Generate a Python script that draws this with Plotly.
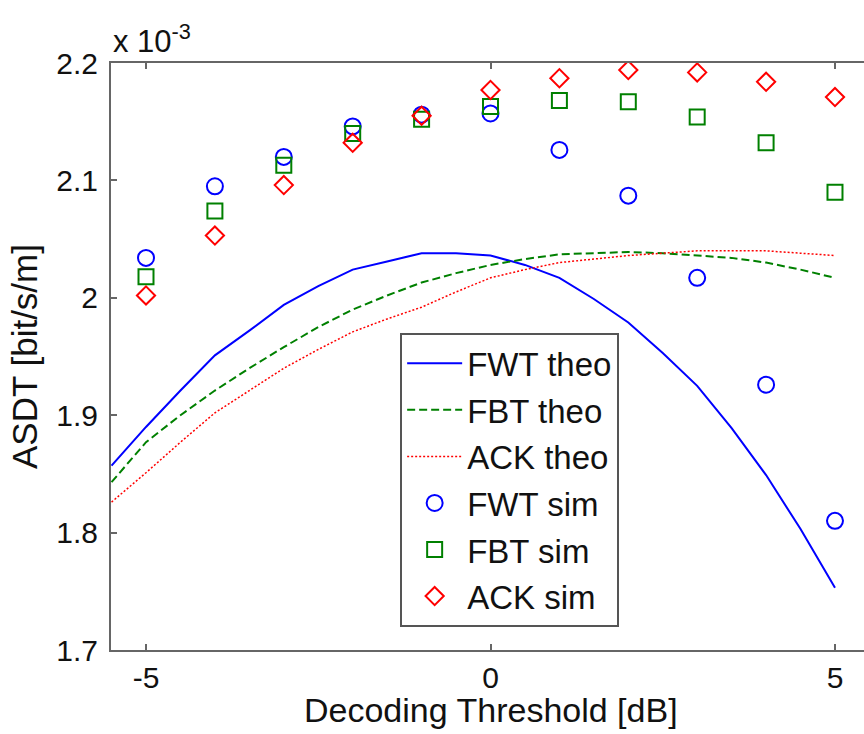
import plotly.graph_objects as go

# Decoding threshold grid (dB)
thr_sim = [-5, -4, -3, -2, -1, 0, 1, 2, 3, 4, 5]
thr_theo = [-5.5, -5.0, -4.5, -4.0, -3.5, -3.0, -2.5, -2.0, -1.5, -1.0, -0.5,
            0.0, 0.5, 1.0, 1.5, 2.0, 2.5, 3.0, 3.5, 4.0, 4.5, 5.0]

# ASDT values in units of 1e-3 bit/s/m
fwt_theo = [1.857, 1.890, 1.921, 1.951, 1.972, 1.994, 2.010, 2.024, 2.031, 2.038, 2.038,
            2.036, 2.028, 2.017, 1.999, 1.979, 1.953, 1.925, 1.889, 1.849, 1.803, 1.753]
fbt_theo = [1.843, 1.877, 1.900, 1.921, 1.940, 1.958, 1.975, 1.990, 2.002, 2.013, 2.021,
            2.028, 2.033, 2.037, 2.038, 2.039, 2.038, 2.036, 2.034, 2.030, 2.024, 2.017]
ack_theo = [1.826, 1.851, 1.877, 1.902, 1.921, 1.940, 1.956, 1.971, 1.982, 1.992, 2.005,
            2.017, 2.024, 2.030, 2.033, 2.036, 2.038, 2.040, 2.040, 2.040, 2.038, 2.036]

fwt_sim = [2.034, 2.095, 2.120, 2.146, 2.156, 2.157, 2.126, 2.087, 2.017, 1.926, 1.810]
fbt_sim = [2.018, 2.074, 2.113, 2.140, 2.152, 2.163, 2.168, 2.167, 2.154, 2.132, 2.090]
ack_sim = [2.002, 2.053, 2.096, 2.132, 2.155, 2.177, 2.187, 2.194, 2.192, 2.184, 2.171]

y_ticks = [1.7, 1.8, 1.9, 2.0, 2.1, 2.2]
y_tick_text = ["1.7", "1.8", "1.9", "2", "2.1", "2.2"]
x_ticks = [-5, 0, 5]
x_tick_text = ["-5", "0", "5"]

BLUE = "#0000FF"
GREEN = "#008000"
RED = "#FF0000"
FONT = "Liberation Sans"
INK = "#111111"


def leg(name):
    # legend rows are spaced by the legend font; the label itself is a bit smaller
    return '<span style="font-size:33px">' + name + "</span>"


fig = go.Figure()
fig.add_trace(go.Scatter(x=thr_theo, y=fwt_theo, mode="lines", name=leg("FWT theo"),
                         line=dict(color=BLUE, width=2)))
fig.add_trace(go.Scatter(x=thr_theo, y=fbt_theo, mode="lines", name=leg("FBT theo"),
                         line=dict(color=GREEN, width=2, dash="8px,4px")))
fig.add_trace(go.Scatter(x=thr_theo, y=ack_theo, mode="lines", name=leg("ACK theo"),
                         line=dict(color=RED, width=1.5, dash="2px,2px")))
fig.add_trace(go.Scatter(x=thr_sim, y=fwt_sim, mode="markers", name=leg("FWT sim"),
                         marker=dict(symbol="circle-open", size=16, color=BLUE,
                                     line=dict(color=BLUE, width=2))))
fig.add_trace(go.Scatter(x=thr_sim, y=fbt_sim, mode="markers", name=leg("FBT sim"),
                         marker=dict(symbol="square-open", size=15, color=GREEN,
                                     line=dict(color=GREEN, width=2))))
fig.add_trace(go.Scatter(x=thr_sim, y=ack_sim, mode="markers", name=leg("ACK sim"),
                         marker=dict(symbol="diamond-open", size=14, color=RED,
                                     line=dict(color=RED, width=2))))

axis_common = dict(
    showgrid=False, zeroline=False, showline=True, linecolor="#666666", linewidth=2,
    ticks="inside", ticklen=6, tickwidth=1.5, tickcolor="#666666",
    tickfont=dict(family=FONT, size=30, color=INK),
)

fig.update_xaxes(
    range=[-5.508, 5.421], tickvals=x_ticks, ticktext=x_tick_text, mirror="ticks",
    **axis_common,
)
fig.update_yaxes(
    range=[1.7, 2.2], tickvals=y_ticks, ticktext=y_tick_text, mirror=False,
    ticklabelstandoff=5,
    title=dict(text="ASDT [bit/s/m]", font=dict(family=FONT, size=35, color=INK),
               standoff=8),
    **axis_common,
)

# x-axis label, centred on the full axes box
fig.add_annotation(
    xref="paper", yref="paper", x=0.5046, y=-0.1022, xanchor="center", yanchor="middle",
    text="Decoding Threshold [dB]", showarrow=False,
    font=dict(family=FONT, size=34, color=INK),
)

# exponent label for the y axis
fig.add_annotation(
    xref="paper", yref="paper", x=0.0, y=1.0, xanchor="left", yanchor="bottom",
    text="x 10<sup>-3</sup>", showarrow=False,
    font=dict(family=FONT, size=31, color=INK), yshift=2,
)

fig.update_layout(
    width=864, height=734,
    margin=dict(l=111, r=0, t=63, b=84),
    paper_bgcolor="white", plot_bgcolor="white",
    font=dict(family=FONT, color=INK),
    legend=dict(
        x=0.384, y=0.540, xanchor="left", yanchor="top",
        bgcolor="white", bordercolor="#555555", borderwidth=2,
        font=dict(family=FONT, size=33.5, color=INK),
        itemwidth=55, tracegroupgap=0,
    ),
)

fig.write_html("out.html")
